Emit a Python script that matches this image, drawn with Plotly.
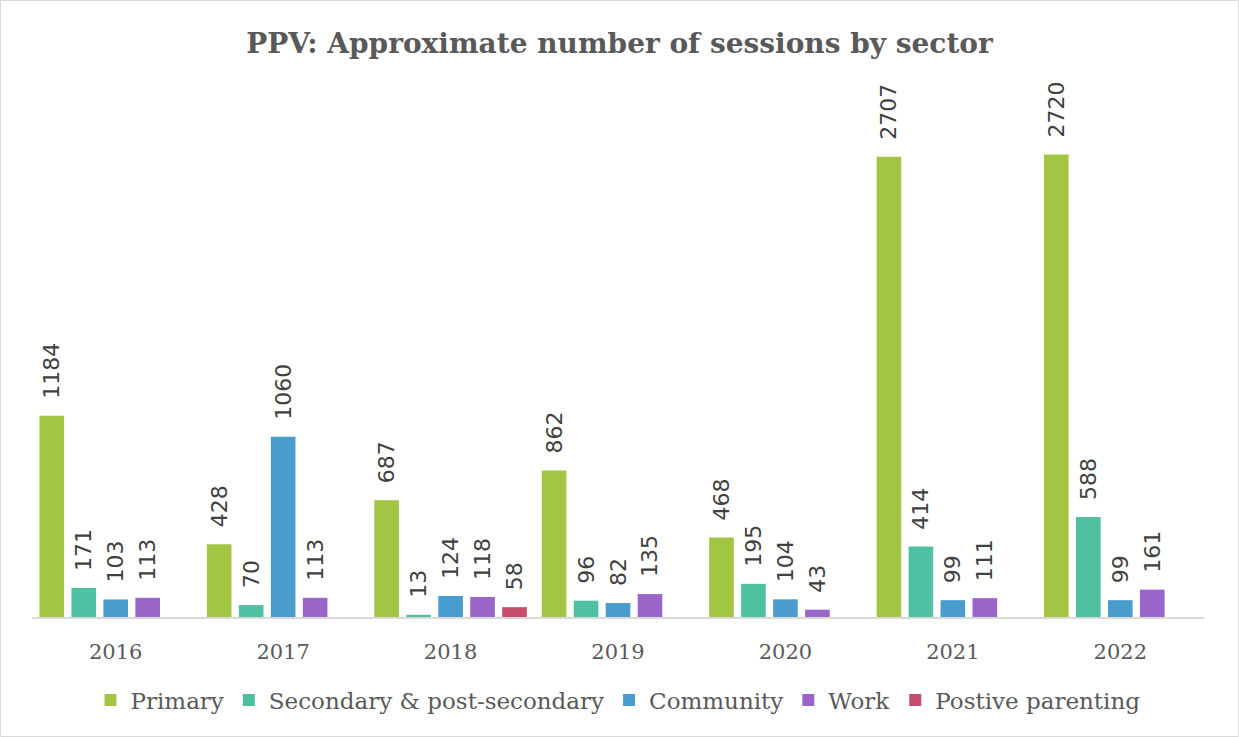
import plotly.graph_objects as go

years = ["2016", "2017", "2018", "2019", "2020", "2021", "2022"]
primary = [1184, 428, 687, 862, 468, 2707, 2720]
secondary = [171, 70, 13, 96, 195, 414, 588]
community = [103, 1060, 124, 82, 104, 99, 99]
work = [113, 113, 118, 135, 43, 111, 161]
parenting = [None, None, 58, None, None, None, None]

series = [
    ("Primary", primary, "#A2C544"),
    ("Secondary & post-secondary", secondary, "#50C0A3"),
    ("Community", community, "#4A9CCD"),
    ("Work", work, "#9B64C9"),
    ("Postive parenting", parenting, "#C64D6E"),
]

fig = go.Figure()
for name, vals, col in series:
    fig.add_trace(go.Bar(
        x=years, y=vals, name=name, marker_color=col,
        marker_line_width=0,
        text=[("\u00a0\u00a0" + str(v)) if v is not None else "" for v in vals],
        textposition="outside", textangle=-90, constraintext="none",
        cliponaxis=False,
        textfont=dict(family="DejaVu Sans", size=22, color="#404040"),
    ))

fig.update_layout(
    width=1239, height=737,
    barmode="group", bargap=0.045, bargroupgap=0.23,
    paper_bgcolor="white", plot_bgcolor="white",
    margin=dict(l=32, r=35, t=107, b=120),
    title=dict(text="<b>PPV: Approximate number of sessions by sector</b>",
               x=0.5, xanchor="center", y=0.942, yanchor="middle",
               font=dict(family="DejaVu Serif", size=28, color="#595959")),
    xaxis=dict(showline=True, linecolor="#D9D9D9", linewidth=2, ticks="",
               ticklabelstandoff=15,
               tickfont=dict(family="DejaVu Serif", size=21, color="#595959")),
    yaxis=dict(range=[0, 3000], showgrid=False, showticklabels=False,
               zeroline=False, showline=False),
    legend=dict(orientation="h", x=0.5, xanchor="center", y=-0.163, yanchor="middle",
                font=dict(family="DejaVu Serif", size=23, color="#595959"),
                itemwidth=30, traceorder="normal"),
    showlegend=True,
    shapes=[dict(type="rect", xref="paper", yref="paper",
                 x0=-31.5/1172, x1=1+34.5/1172, y0=-119.5/510, y1=1+106.5/510,
                 line=dict(color="#D9D9D9", width=1), layer="below")],
)

fig.write_html("out.html", config={"displayModeBar": False},
               post_script="document.body.style.margin='0';document.body.style.overflow='hidden';")
